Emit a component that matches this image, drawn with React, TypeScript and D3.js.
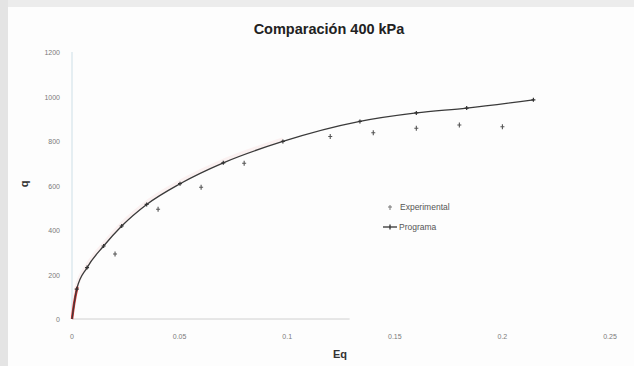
import { useEffect, useRef } from "react";
import * as d3 from "d3";

// Programa (model curve)
const progStrain = [0, 0.0022, 0.007, 0.0147, 0.0231, 0.0347, 0.0502, 0.0703, 0.098, 0.1338, 0.16, 0.1834, 0.2144];
const progQ = [0, 134, 231, 328, 418, 515, 608, 702, 798, 888, 926, 948, 985];

// Experimental points
const expStrain = [0.02, 0.04, 0.06, 0.08, 0.12, 0.14, 0.16, 0.18, 0.2];
const expQ = [292, 493, 592, 700, 820, 837, 857, 872, 864];

// red initial segment
const redStrain = [0, 0.001, 0.0025];
const redQ = [0, 70, 145];

const xTicks = [0, 0.05, 0.1, 0.15, 0.2, 0.25];
const xTickLabels = ["0", "0.05", "0.1", "0.15", "0.2", "0.25"];
const yTicks = [0, 200, 400, 600, 800, 1000, 1200];

export default function App() {
    const svgRef = useRef<SVGSVGElement | null>(null);

    useEffect(() => {
        const width = 634;
        const height = 366;
        const svg = d3.select(svgRef.current);
        svg.selectAll("*").remove();

        const x = d3.scaleLinear().domain([0, 0.25]).range([72, 610]);
        const y = d3.scaleLinear().domain([0, 1200]).range([319, 52]);

        // background
        svg.append("rect").attr("width", width).attr("height", height).attr("fill", "#fdfdfd");
        svg.append("rect").attr("width", width).attr("height", 7).attr("fill", "#ececec");
        svg.append("rect").attr("width", 8).attr("height", height).attr("fill", "#e4e4e4");

        // axis lines (faint)
        svg.append("line")
            .attr("x1", x(0)).attr("x2", x(0))
            .attr("y1", y(1200)).attr("y2", y(0))
            .attr("stroke", "#dce9ee").attr("stroke-width", 1.5);
        svg.append("line")
            .attr("x1", x(0)).attr("x2", x(0.129))
            .attr("y1", y(0)).attr("y2", y(0))
            .attr("stroke", "#d0d0d0").attr("stroke-width", 1);

        // tick labels
        svg.append("g")
            .selectAll("text")
            .data(yTicks)
            .join("text")
            .attr("x", 60)
            .attr("y", d => y(d) + 3)
            .attr("text-anchor", "end")
            .attr("font-family", "Liberation Sans, Arial, sans-serif")
            .attr("font-size", 7)
            .attr("fill", "#7a7a7a")
            .text(d => String(d));

        svg.append("g")
            .selectAll("text")
            .data(xTicks)
            .join("text")
            .attr("x", d => x(d))
            .attr("y", 339)
            .attr("text-anchor", "middle")
            .attr("font-family", "Liberation Sans, Arial, sans-serif")
            .attr("font-size", 7)
            .attr("fill", "#7a7a7a")
            .text((d, i) => xTickLabels[i]);

        // titles
        svg.append("text")
            .attr("x", 329).attr("y", 34)
            .attr("text-anchor", "middle")
            .attr("font-family", "Liberation Sans, Arial, sans-serif")
            .attr("font-weight", "bold")
            .attr("font-size", 14.5)
            .attr("fill", "#222")
            .text("Comparación 400 kPa");

        svg.append("text")
            .attr("x", 340).attr("y", 358)
            .attr("text-anchor", "middle")
            .attr("font-family", "Liberation Sans, Arial, sans-serif")
            .attr("font-weight", "bold")
            .attr("font-size", 11)
            .attr("fill", "#333")
            .text("Eq");

        svg.append("text")
            .attr("transform", `translate(28,184) rotate(-90)`)
            .attr("text-anchor", "middle")
            .attr("font-family", "Liberation Sans, Arial, sans-serif")
            .attr("font-weight", "bold")
            .attr("font-size", 11)
            .attr("fill", "#333")
            .text("q");

        const prog = progStrain.map((s, i) => [s, progQ[i]] as [number, number]);
        const red = redStrain.map((s, i) => [s, redQ[i]] as [number, number]);
        const exp = expStrain.map((s, i) => [s, expQ[i]] as [number, number]);

        const line = d3.line<[number, number]>()
            .x(d => x(d[0]))
            .y(d => y(d[1]))
            .curve(d3.curveMonotoneX);

        // faint pink halo
        svg.append("path")
            .attr("d", line(prog.slice(0, 9)))
            .attr("fill", "none")
            .attr("stroke", "#f3c4c4")
            .attr("stroke-opacity", 0.2)
            .attr("stroke-width", 4)
            .attr("transform", "translate(0,-2)");

        // red initial segment
        svg.append("path")
            .attr("d", line(red))
            .attr("fill", "none")
            .attr("stroke", "#d42a2a")
            .attr("stroke-width", 2.5);

        // Programa line
        svg.append("path")
            .attr("d", line(prog))
            .attr("fill", "none")
            .attr("stroke", "#3a3a3a")
            .attr("stroke-width", 1.3);

        svg.append("g")
            .selectAll("path")
            .data(prog.slice(1))
            .join("path")
            .attr("d", d => `M${x(d[0])},${y(d[1]) - 2}V${y(d[1]) + 2}M${x(d[0]) - 2},${y(d[1])}H${x(d[0]) + 2}`)
            .attr("stroke", "#333")
            .attr("stroke-width", 1.2);

        // Experimental markers
        svg.append("g")
            .selectAll("path")
            .data(exp)
            .join("path")
            .attr("d", d => `M${x(d[0])},${y(d[1]) - 2.5}V${y(d[1]) + 2.5}M${x(d[0]) - 2},${y(d[1])}H${x(d[0]) + 2}`)
            .attr("stroke", "#555")
            .attr("stroke-width", 1.1);

        // legend
        const lg = svg.append("g").attr("transform", "translate(383,0)");
        lg.append("path")
            .attr("d", "M7,205V210M5,207H9")
            .attr("stroke", "#777").attr("stroke-width", 1);
        lg.append("text")
            .attr("x", 17).attr("y", 210)
            .attr("font-family", "Liberation Sans, Arial, sans-serif")
            .attr("font-size", 8.5)
            .attr("fill", "#555")
            .text("Experimental");
        lg.append("line")
            .attr("x1", 0).attr("x2", 14).attr("y1", 227).attr("y2", 227)
            .attr("stroke", "#333").attr("stroke-width", 1.3);
        lg.append("path")
            .attr("d", "M7,224.5V229.5")
            .attr("stroke", "#333").attr("stroke-width", 1.3);
        lg.append("text")
            .attr("x", 16).attr("y", 230)
            .attr("font-family", "Liberation Sans, Arial, sans-serif")
            .attr("font-size", 8.5)
            .attr("fill", "#555")
            .text("Programa");
    }, []);

    return (
        <svg
            ref={svgRef}
            width={634}
            height={366}
            style={{ position: "absolute", left: 0, top: 0, display: "block" }}
        />
    );
}
